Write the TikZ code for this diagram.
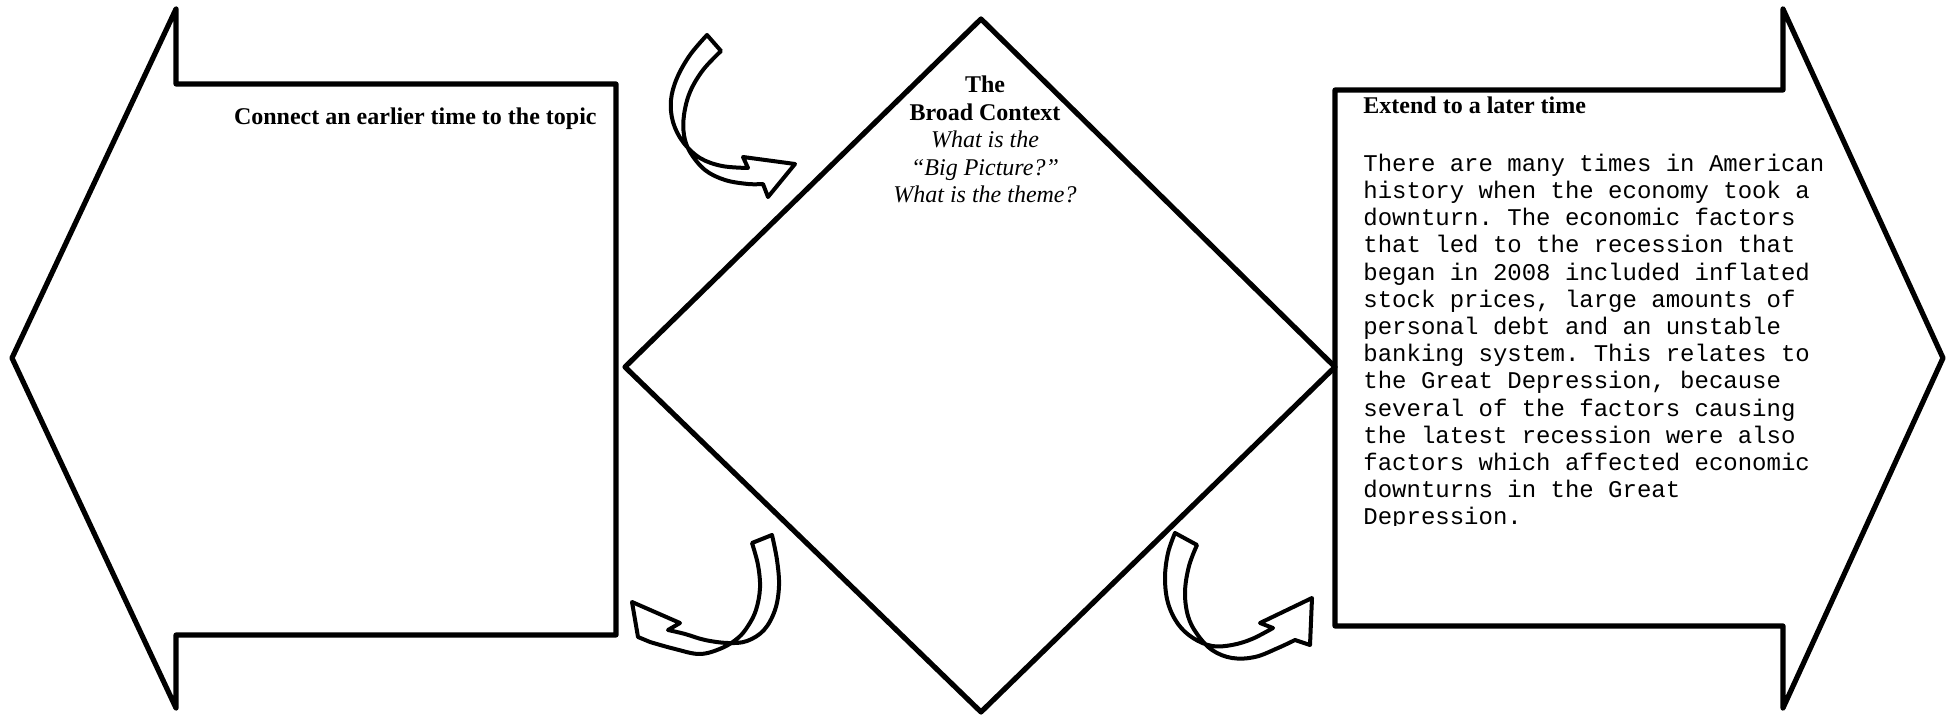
\documentclass[tikz,border=0pt]{standalone}
\usepackage{fontspec}
\setmainfont{Liberation Serif}
\setmonofont{Liberation Mono}
\usetikzlibrary{positioning}

\tikzset{
  outline/.style={line width=2.6pt, line join=round, black},
  ribbon/.style={line width=2pt, line join=round, black},
  headtext/.style={font=\fontsize{12}{13.8}\selectfont\bfseries, inner sep=0pt},
  contexttext/.style={font=\fontsize{12}{13.8}\selectfont, align=center, inner sep=0pt},
  bodytext/.style={font=\fontsize{12}{13.6}\selectfont\ttfamily, align=left, inner sep=0pt},
}

\begin{document}
\begin{tikzpicture}[x=0.5pt, y=-0.5pt]
  \useasboundingbox (0,0) rectangle (1955,715);

  % ── Big shapes ──
  \draw[outline] (12,358) -- (176,9) -- (176,84) -- (616,84) -- (616,635)
    -- (176,635) -- (176,708) -- cycle;
  \draw[outline] (981,19) -- (1335,367) -- (981,712) -- (625,367) -- cycle;
  \draw[outline] (1335,90) -- (1783,90) -- (1783,9) -- (1943,358)
    -- (1783,708) -- (1783,626) -- (1335,626) -- cycle;

  % ── Curved arrows ──
  % top left
  \draw[ribbon] plot[smooth, tension=.6] coordinates
      {(707,35) (690,55) (677,78) (671,100) (673,122) (683,142) (700,158) (722,166) (748,168)}
    -- (743,157) -- (795,164) -- (768,197) -- (763,184)
    -- plot[smooth, tension=.6] coordinates
      {(763,184) (748,184) (725,180) (705,170) (690,152) (684,135) (684,115) (690,92) (703,70) (721,51)}
    -- cycle;
  % bottom left
  \draw[ribbon] plot[smooth, tension=.6] coordinates
      {(772,535) (777,560) (779,586) (775,610) (764,630) (747,641) (728,643) (705,640) (685,634) (668,630)}
    -- (680,623) -- (632,602) -- (638,637) -- (650,642)
    -- plot[smooth, tension=.6] coordinates
      {(650,642) (675,649) (700,654) (722,648) (738,638) (748,626) (756,610) (760,588) (758,565) (752,543)}
    -- cycle;
  % bottom right
  \draw[ribbon] plot[smooth, tension=.6] coordinates
      {(1175,533) (1168,553) (1165,578) (1168,603) (1178,624) (1193,638) (1212,646) (1232,645) (1252,639) (1273,628)}
    -- (1260,623) -- (1312,598) -- (1310,645) -- (1295,640)
    -- plot[smooth, tension=.6] coordinates
      {(1295,640) (1278,648) (1255,657) (1232,658) (1212,650) (1197,634) (1188,616) (1185,592) (1189,566) (1197,545)}
    -- cycle;

  % ── Texts ──
  \node[headtext, anchor=base east] (earlier) at (597,125) {Connect an earlier time to the topic};
  \node[contexttext, anchor=base] (context) at (985,203)
    {\textbf{The}\\\textbf{Broad Context}\\\textit{What is the}\\\textit{“Big Picture?”}\\\textit{What is the theme?}};
  \node[headtext, anchor=base west] (later) at (1363,114) {Extend to a later time};
  \begin{scope}
    \clip (1340,95) rectangle (1900,526);
    \node[bodytext, anchor=base west] (laterbody) at (1363,525)
      {There are many times in American\\
       history when the economy took a\\
       downturn. The economic factors\\
       that led to the recession that\\
       began in 2008 included inflated\\
       stock prices, large amounts of\\
       personal debt and an unstable\\
       banking system. This relates to\\
       the Great Depression, because\\
       several of the factors causing\\
       the latest recession were also\\
       factors which affected economic\\
       downturns in the Great\\
       Depression.};
  \end{scope}
\end{tikzpicture}
\end{document}
